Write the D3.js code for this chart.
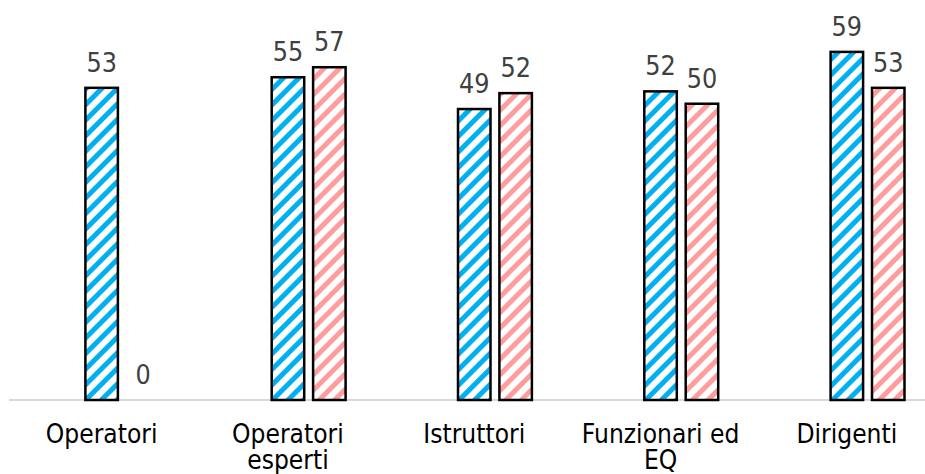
<!DOCTYPE html>
<html>
<head>
<meta charset="utf-8">
<script src="https://cdn.jsdelivr.net/npm/d3@7"></script>
<style>
  html, body { margin: 0; padding: 0; background: #fff; }
  svg { display: block; }
</style>
</head>
<body>
<svg id="chart" width="925" height="474"></svg>
<script>
const categories = [["Operatori"], ["Operatori", "esperti"], ["Istruttori"], ["Funzionari ed", "EQ"], ["Dirigenti"]];
const seriesA = [53.0, 54.8, 49.4, 52.4, 59.1];
const seriesB = [0, 56.5, 52.1, 50.3, 53.0];

const svg = d3.select("#chart");
const W = 925, H = 474;
const baseY = 400;
const SY = 1.1; // vertical stretch of the glyphs in the reference

const x = d3.scaleBand().domain(d3.range(categories.length)).range([8.5, 940]).padding(0);
const y = d3.scaleLinear().domain([0, 60]).range([baseY, baseY - 60 * 5.89]);

const defs = svg.append("defs");
function stripes(id, color) {
  const P = 11;
  const p = defs.append("pattern")
    .attr("id", id)
    .attr("patternUnits", "userSpaceOnUse")
    .attr("width", P).attr("height", P)
    .attr("patternTransform", "rotate(45)");
  p.append("rect").attr("width", P).attr("height", P).attr("fill", "#fff");
  p.append("rect").attr("x", 0).attr("y", 0).attr("width", 5).attr("height", P).attr("fill", color);
}
stripes("pBlue", "#00b0f0");
stripes("pRed", "#ff9c9c");

const barW = 32.5;
const offsets = [0, 41.4];
const series = [
  { vals: seriesA, fill: "url(#pBlue)" },
  { vals: seriesB, fill: "url(#pRed)" }
];

// axis line
svg.append("line")
  .attr("x1", 9).attr("x2", W)
  .attr("y1", baseY).attr("y2", baseY)
  .attr("stroke", "#d9d9d9").attr("stroke-width", 2);

const font = "Verdana, 'DejaVu Sans', sans-serif";

series.forEach((s, si) => {
  const data = s.vals.map((v, i) => ({ v, i }));
  svg.append("g").selectAll("rect")
    .data(data.filter(d => d.v > 0))
    .join("rect")
    .attr("x", d => x(d.i) + x.bandwidth() / 2 + offsets[si] - barW / 2)
    .attr("y", d => y(d.v))
    .attr("width", barW)
    .attr("height", d => y(0) - y(d.v))
    .attr("fill", s.fill)
    .attr("stroke", "#000")
    .attr("stroke-width", 2.5);

  svg.append("g").selectAll("text")
    .data(data)
    .join("text")
    .attr("transform", d => `translate(${x(d.i) + x.bandwidth() / 2 + offsets[si]},${y(d.v) - 16}) scale(1,${SY})`)
    .attr("text-anchor", "middle")
    .attr("font-family", font)
    .attr("font-size", 24)
    .attr("fill", "#404040")
    .text(d => d3.format(".0f")(d.v));
});

// category labels
const lab = svg.append("g").selectAll("text")
  .data(categories.map((c, i) => ({ c, i })))
  .join("text")
  .attr("transform", d => `translate(${x(d.i) + x.bandwidth() / 2},443) scale(1,${SY})`)
  .attr("text-anchor", "middle")
  .attr("font-family", font)
  .attr("font-size", 23.5)
  .attr("fill", "#000");
lab.selectAll("tspan")
  .data(d => d.c.map((t, k) => ({ t, k })))
  .join("tspan")
  .attr("x", 0)
  .attr("dy", d => d.k === 0 ? 0 : 26.5 / SY)
  .text(d => d.t);
</script>
</body>
</html>
